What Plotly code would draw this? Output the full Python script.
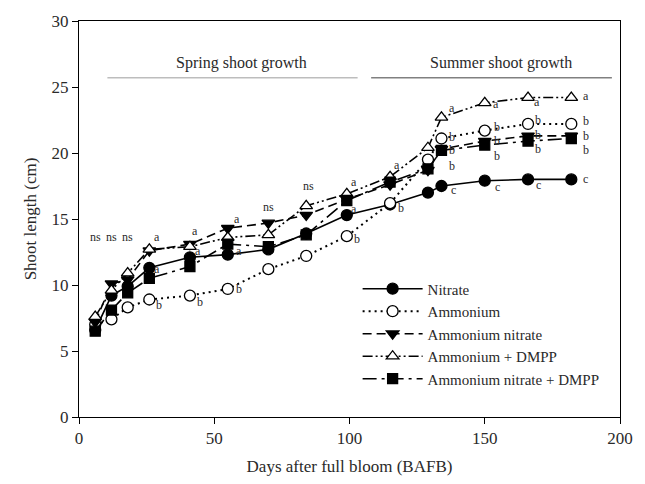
import plotly.graph_objects as go

days = [6, 12, 18, 26, 41, 55, 70, 84, 99, 115, 129, 134, 150, 166, 182]
nitrate = [6.6, 9.2, 9.9, 11.3, 12.1, 12.3, 12.7, 13.9, 15.3, 16.1, 17.0, 17.5, 17.9, 18.0, 18.0]
ammonium = [7.0, 7.4, 8.3, 8.9, 9.2, 9.7, 11.2, 12.2, 13.7, 16.2, 19.5, 21.1, 21.7, 22.2, 22.2]
amm_nitrate = [7.2, 10.1, 10.4, 12.6, 13.1, 14.3, 14.7, 15.3, 16.5, 17.6, 18.7, 20.3, 20.9, 21.3, 21.3]
amm_dmpp = [7.6, 9.6, 10.9, 12.7, 12.9, 13.6, 13.8, 16.0, 16.9, 18.2, 20.4, 22.7, 23.8, 24.2, 24.2]
an_dmpp = [6.5, 8.1, 9.4, 10.5, 11.4, 13.1, 12.9, 13.8, 16.4, 17.8, 18.8, 20.2, 20.6, 20.9, 21.1]

# significance letters
lab_x = [6, 12, 18, 28.7, 29, 29.4, 42.7, 44, 44.9, 58.4, 59, 59, 70, 85,
         101.7, 101.7, 102.6, 117.7, 118.9,
         138, 138, 138, 138, 138.3,
         154, 154.6, 154.6, 154.6, 154.6,
         169.2, 169.6, 169.6, 169.6, 170,
         187.3, 187.3, 187.3, 187.3, 187.3]
lab_y = [13.6, 13.6, 13.6, 13.6, 11.2, 8.5, 14.1, 12.6, 8.7, 15.0, 12.6, 9.7, 15.9, 17.5,
         17.8, 15.75, 13.45, 19.1, 15.8,
         23.4, 21.2, 20.2, 19.0, 17.2,
         23.7, 22.0, 20.9, 19.8, 17.4,
         23.9, 22.5, 21.4, 20.3, 17.6,
         24.3, 22.4, 21.3, 20.2, 18.0]
lab_t = ["ns", "ns", "ns", "a", "a", "b", "a", "a", "b", "a", "a", "b", "ns", "ns",
         "a", "a", "b", "a", "b",
         "a", "b", "b", "b", "c",
         "a", "b", "b", "b", "c",
         "a", "b", "b", "b", "c",
         "a", "b", "b", "b", "c"]

FONT = "Liberation Serif"
TXT = "#2a2a2a"

fig = go.Figure()
series = [
    ("Nitrate", nitrate, "solid", "circle", "black", 11),
    ("Ammonium", ammonium, "2px,4px", "circle", "white", 11),
    ("Ammonium nitrate", amm_nitrate, "9px,5px", "triangle-down", "black", 11),
    ("Ammonium + DMPP", amm_dmpp, "10px,3px,2px,3px,2px,3px", "triangle-up", "white", 11),
    ("Ammonium nitrate + DMPP", an_dmpp, "14px,5px,3px,5px", "square", "black", 10),
]
for name, vals, dash, sym, fill, ms in series:
    fig.add_trace(go.Scatter(
        x=days, y=vals, name=name, mode="lines+markers",
        line=dict(color="black", width=2.0 if dash == "2px,4px" else 1.6, dash=dash),
        marker=dict(symbol=sym, size=ms, color=fill,
                    line=dict(color="black", width=1.3)),
    ))

for x, y, t in zip(lab_x, lab_y, lab_t):
    fig.add_annotation(x=x, y=y, text=t, showarrow=False,
                       font=dict(family=FONT, size=12, color=TXT))

fig.add_shape(type="line", x0=10.5, x1=103, y0=25.7, y1=25.7,
              line=dict(color="#bdbdbd", width=1.3))
fig.add_shape(type="line", x0=108, x1=197, y0=25.7, y1=25.7,
              line=dict(color="#808080", width=1.3))
fig.add_annotation(x=60, y=26.8, text="Spring shoot growth", showarrow=False,
                   font=dict(family=FONT, size=16, color=TXT))
fig.add_annotation(x=156, y=26.8, text="Summer shoot growth", showarrow=False,
                   font=dict(family=FONT, size=16, color=TXT))

axis_common = dict(showline=True, linecolor="black", linewidth=1, mirror=True,
                   ticks="outside", ticklen=6, tickcolor="black", showgrid=False,
                   zeroline=False, tickfont=dict(family=FONT, size=17, color=TXT))
fig.update_xaxes(range=[0, 200], tickvals=[0, 50, 100, 150, 200],
                 title=dict(text="Days after full bloom (BAFB)",
                            font=dict(family=FONT, size=17, color=TXT), standoff=12),
                 **axis_common)
fig.update_yaxes(range=[0, 30], tickvals=[0, 5, 10, 15, 20, 25, 30],
                 title=dict(text="Shoot length (cm)",
                            font=dict(family=FONT, size=17, color=TXT), standoff=10),
                 **axis_common)

fig.update_layout(
    width=645, height=484,
    margin=dict(l=79, r=17, t=21, b=65),
    plot_bgcolor="white", paper_bgcolor="white",
    legend=dict(x=0.515, y=0.365, xanchor="left", yanchor="top",
                font=dict(family=FONT, size=15, color=TXT),
                bgcolor="rgba(0,0,0,0)", itemwidth=60, tracegroupgap=0),
    showlegend=True,
)

fig.write_html("out.html")
